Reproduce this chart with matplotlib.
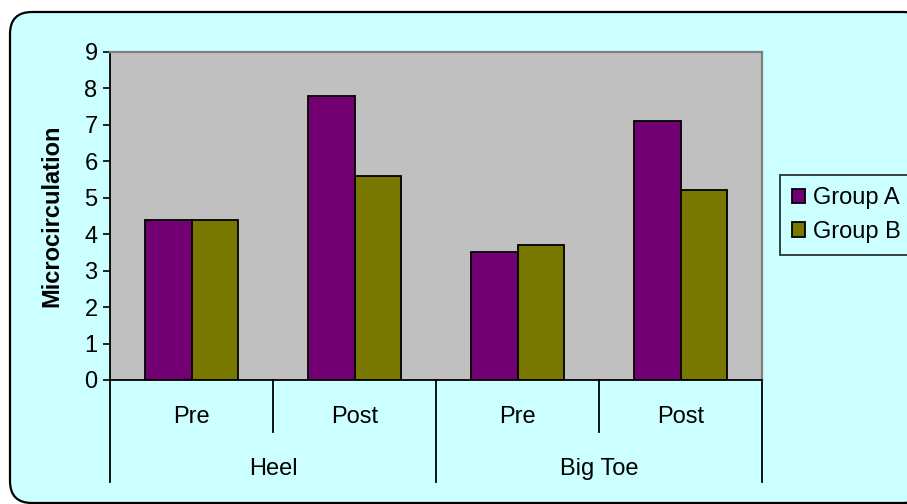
import numpy as np
import matplotlib
matplotlib.use("Agg")
import matplotlib.pyplot as plt
from matplotlib.patches import FancyBboxPatch
from matplotlib.transforms import IdentityTransform

# data
sites = ["Heel", "Big Toe"]
phases = ["Pre", "Post"]
group_a = [4.4, 7.8, 3.5, 7.1]
group_b = [4.4, 5.6, 3.7, 5.2]
series_names = ["Group A", "Group B"]
colors = ["#730073", "#787800"]

plt.rcParams['font.family'] = ['Liberation Sans', 'DejaVu Sans']

fig = plt.figure(figsize=(9.07, 5.04), dpi=100)
fig.patch.set_facecolor("white")

# rounded chart background (pixel coords)
bg = FancyBboxPatch((10, 1), 915, 491, boxstyle="round,pad=0,rounding_size=22",
                    transform=IdentityTransform(), facecolor="#CCFFFF",
                    edgecolor="black", linewidth=1.6, zorder=0)
fig.add_artist(bg)

ax = fig.add_axes([110/907, 1-380/504, (762-110)/907, (380-52)/504])
ax.set_facecolor("#C0C0C0")

n = len(group_a)
x = np.arange(n) + 0.5
w = 0.285
ax.bar(x - w/2, group_a, w, color=colors[0], edgecolor="black", linewidth=1.3, label=series_names[0])
ax.bar(x + w/2, group_b, w, color=colors[1], edgecolor="black", linewidth=1.3, label=series_names[1])

ax.set_xlim(0, n)
ax.set_ylim(0, 9)
ax.set_yticks(range(0, 10))
ax.tick_params(axis="y", direction="out", length=5, width=1.2, labelsize=17, pad=4)
ax.set_xticks([])
ax.set_ylabel("Microcirculation", fontsize=17, fontweight="bold", labelpad=15)

for s in ["left", "bottom"]:
    ax.spines[s].set_color("black")
    ax.spines[s].set_linewidth(1.3)
for s in ["top", "right"]:
    ax.spines[s].set_color("#808080")
    ax.spines[s].set_linewidth(1.6)

# two-level category axis
px = 1.0 / (380 - 52)  # axes fraction per pixel (vertical)
trans = ax.get_xaxis_transform()
for i in range(n + 1):
    bottom = -102 * px if i % 2 == 0 else -52 * px
    ax.plot([i, i], [0, bottom], color="black", linewidth=1.3, transform=trans, clip_on=False)
for i in range(n):
    ax.text(i + 0.5, -37 * px, phases[i % 2], transform=trans, ha="center", va="center", fontsize=17)
for j, site in enumerate(sites):
    ax.text(2 * j + 1, -89 * px, site, transform=trans, ha="center", va="center", fontsize=17)

leg = fig.legend(loc="center left", bbox_to_anchor=(780/907, 1-215/504), fontsize=17,
                 frameon=True, fancybox=False, edgecolor="black", facecolor="#CCFFFF",
                 handlelength=0.55, handleheight=0.55, handletextpad=0.35, borderpad=0.5,
                 labelspacing=0.5, borderaxespad=0)
leg.get_frame().set_linewidth(1.3)

fig.savefig("out.png", dpi=100)
